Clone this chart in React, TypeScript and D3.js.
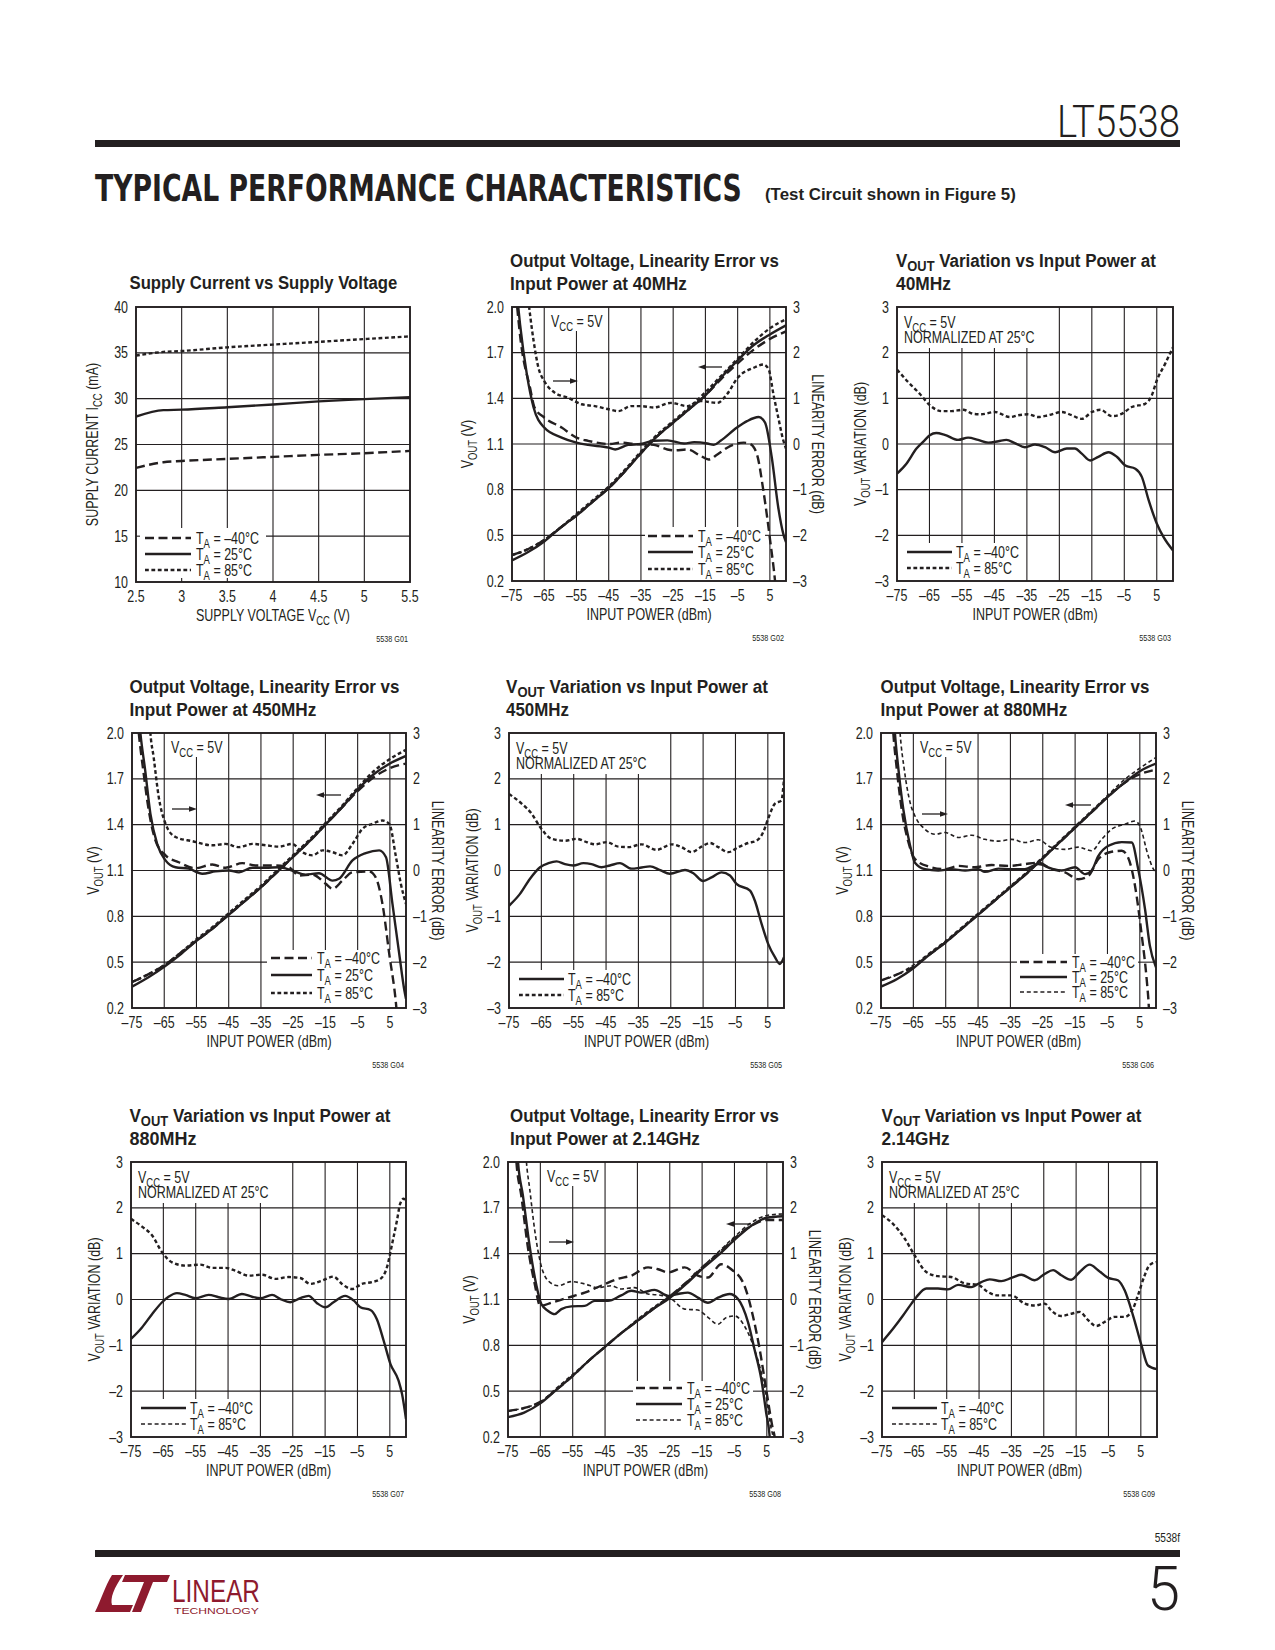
import React from 'react';
import * as d3 from 'd3';

type Pt = [number, number];
const INK = '#231f20';
const RED = '#8e1a2e';
const SANS = '"Liberation Sans", Arial, Helvetica, sans-serif';
const SX = 0.78;

// ---------- tick labels ----------
const DBM_TICKS = [-75, -65, -55, -45, -35, -25, -15, -5, 5];
const DBM_LABELS = ['–75', '–65', '–55', '–45', '–35', '–25', '–15', '–5', '5'];
const VOUT_TICKS = [0.2, 0.5, 0.8, 1.1, 1.4, 1.7, 2.0];
const VOUT_LABELS = ['0.2', '0.5', '0.8', '1.1', '1.4', '1.7', '2.0'];
const DB_TICKS = [-3, -2, -1, 0, 1, 2, 3];
const DB_LABELS = ['–3', '–2', '–1', '0', '1', '2', '3'];
const VCC_TICKS = [2.5, 3, 3.5, 4, 4.5, 5, 5.5];
const VCC_LABELS = ['2.5', '3', '3.5', '4', '4.5', '5', '5.5'];
const ICC_TICKS = [10, 15, 20, 25, 30, 35, 40];
const ICC_LABELS = ['10', '15', '20', '25', '30', '35', '40'];

// ---------- G01 supply current ----------
const VCC = [2.5, 2.8, 3, 3.5, 4, 4.5, 5, 5.5];
const ICC_M40 = [22.45, 23.07, 23.2, 23.43, 23.65, 23.87, 24.05, 24.3];
const ICC_25 = [28.05, 28.75, 28.8, 29.07, 29.37, 29.7, 29.95, 30.17];
const ICC_85 = [34.7, 35.1, 35.2, 35.6, 35.9, 36.2, 36.5, 36.8];

// ---------- VOUT vs input power (common x) ----------
const XP = [-75, -70, -65, -60, -55, -50, -45, -40, -35, -30, -25, -20, -15, -10, -5, 0, 5, 10];
const VOUT40_M40 = [0.37, 0.41, 0.47, 0.55, 0.63, 0.72, 0.81, 0.92, 1.04, 1.15, 1.24, 1.33, 1.42, 1.53, 1.63, 1.72, 1.79, 1.84];
const VOUT40_25 = [0.335, 0.39, 0.46, 0.55, 0.63, 0.72, 0.81, 0.92, 1.04, 1.15, 1.24, 1.33, 1.42, 1.54, 1.65, 1.75, 1.82, 1.88];
const VOUT40_85 = [0.37, 0.41, 0.47, 0.55, 0.64, 0.73, 0.82, 0.93, 1.05, 1.16, 1.25, 1.34, 1.44, 1.55, 1.66, 1.77, 1.86, 1.92];
const VOUT450_M40 = [0.37, 0.42, 0.48, 0.56, 0.64, 0.72, 0.81, 0.9, 0.99, 1.09, 1.19, 1.29, 1.4, 1.51, 1.62, 1.71, 1.77, 1.8];
const VOUT450_25 = [0.34, 0.4, 0.47, 0.55, 0.64, 0.72, 0.81, 0.9, 0.99, 1.09, 1.19, 1.29, 1.4, 1.51, 1.63, 1.73, 1.8, 1.85];
const VOUT450_85 = [0.37, 0.42, 0.48, 0.56, 0.65, 0.73, 0.82, 0.91, 1.0, 1.1, 1.2, 1.3, 1.41, 1.52, 1.64, 1.75, 1.83, 1.89];
const VOUT880_M40 = [0.38, 0.42, 0.47, 0.55, 0.63, 0.72, 0.81, 0.9, 0.99, 1.08, 1.18, 1.28, 1.38, 1.48, 1.58, 1.67, 1.73, 1.76];
const VOUT880_25 = [0.34, 0.39, 0.46, 0.55, 0.63, 0.72, 0.81, 0.9, 0.99, 1.08, 1.18, 1.28, 1.38, 1.48, 1.58, 1.67, 1.75, 1.8];
const VOUT880_85 = [0.38, 0.42, 0.48, 0.56, 0.64, 0.73, 0.82, 0.91, 1.0, 1.09, 1.19, 1.29, 1.39, 1.49, 1.59, 1.69, 1.77, 1.84];
const VOUT2G_M40 = [0.37, 0.39, 0.43, 0.51, 0.6, 0.7, 0.79, 0.88, 0.96, 1.04, 1.12, 1.21, 1.31, 1.4, 1.5, 1.58, 1.62, 1.62];
const VOUT2G_25 = [0.33, 0.36, 0.42, 0.51, 0.6, 0.7, 0.79, 0.88, 0.96, 1.04, 1.11, 1.2, 1.3, 1.39, 1.49, 1.58, 1.635, 1.645];
const VOUT2G_85 = [0.37, 0.39, 0.43, 0.52, 0.61, 0.7, 0.79, 0.88, 0.97, 1.05, 1.12, 1.21, 1.31, 1.41, 1.51, 1.6, 1.65, 1.66];

// ---------- linearity error (dB) [input dBm, error] ----------
const LE40_M40: Pt[] = [[-73.8, 3.3], [-72.3, 2.26], [-69.4, 1.23], [-68, 0.8], [-65, 0.58], [-59.6, 0.36], [-55, 0.14], [-51.4, 0.07], [-45, 0], [-41, 0.03], [-37, 0], [-31, -0.02], [-26.8, -0.12], [-24.7, -0.14], [-20.6, -0.12], [-16.5, -0.26], [-14, -0.34], [-11.3, -0.23], [-7.2, -0.04], [-3.1, 0.03], [-1.1, 0], [1, -0.23], [3, -1.03], [5.1, -2.12], [6.6, -3], [7, -3.3]];
const LE40_25: Pt[] = [[-73.5, 3.3], [-72.5, 2.62], [-70.4, 1.53], [-68.3, 0.8], [-65, 0.36], [-59.6, 0.14], [-55, 0.03], [-51.4, -0.02], [-45, -0.08], [-43, -0.12], [-39, -0.02], [-35, 0], [-31, 0.07], [-26.8, 0.08], [-21.6, 0.01], [-18.5, 0.04], [-14.4, 0.01], [-12.4, -0.02], [-10.3, 0.07], [-5.2, 0.36], [-2.1, 0.5], [1.5, 0.59], [3.5, 0.47], [5.6, -0.3], [7.6, -1.39], [9.2, -1.98], [10, -2.15]];
const LE40_85: Pt[] = [[-70.2, 3.3], [-68.3, 2.26], [-66.8, 1.67], [-65, 1.38], [-61.7, 1.12], [-57.5, 1.01], [-53.4, 0.87], [-49.3, 0.83], [-45, 0.76], [-42, 0.72], [-38, 0.83], [-35, 0.83], [-31, 0.8], [-25.7, 0.9], [-20.6, 0.83], [-16.5, 0.94], [-11.3, 0.9], [-8.3, 1.09], [-5, 1.45], [0, 1.67], [3, 1.74], [4.6, 1.64], [6.1, 1.09], [7.6, 0.58], [9.2, 0.07], [10, -0.1]];

const LE450_M40: Pt[] = [[-73.3, 3.3], [-72.9, 3], [-71.5, 2.18], [-69.8, 1.31], [-67.7, 0.65], [-64.6, 0.33], [-60.5, 0.18], [-55.3, 0.05], [-50.1, 0.13], [-46, 0.06], [-40.8, 0.16], [-36.7, 0.11], [-31.5, 0.11], [-26.3, 0.07], [-23.2, -0.11], [-19, -0.09], [-14.9, -0.29], [-12.8, -0.4], [-9.7, -0.22], [-6.6, -0.04], [-1.4, -0.02], [0.6, -0.15], [2.7, -0.73], [4.8, -1.82], [6.9, -2.91], [7.4, -3.3]];
const LE450_25: Pt[] = [[-72.8, 3.3], [-72.4, 3], [-70.9, 2.18], [-69.3, 1.24], [-67.2, 0.58], [-64.6, 0.22], [-61.5, 0.07], [-57.4, 0.04], [-53.2, -0.07], [-49.1, -0.02], [-44.9, 0], [-41.8, -0.04], [-37.7, 0.06], [-33.5, 0.06], [-29.4, 0.07], [-25.3, 0], [-21.1, -0.09], [-17, -0.06], [-12.8, -0.22], [-10.8, -0.18], [-6.6, 0.22], [-2.5, 0.38], [1.7, 0.44], [3.8, 0.29], [5.8, -0.73], [7.9, -1.82], [9.5, -2.62], [10, -2.8]];
const LE450_85: Pt[] = [[-69.6, 3.3], [-69.3, 3], [-68.3, 2.48], [-66.7, 1.6], [-64.6, 1.02], [-61.5, 0.73], [-56.3, 0.64], [-50.1, 0.55], [-46, 0.58], [-41.8, 0.51], [-37.7, 0.58], [-33.5, 0.55], [-29.4, 0.52], [-25.3, 0.58], [-22.2, 0.4], [-19, 0.33], [-15.9, 0.44], [-12.8, 0.4], [-9.7, 0.33], [-6.6, 0.58], [-3.5, 0.91], [-0.4, 1.02], [2.7, 1.09], [4.8, 1.02], [6.9, 0.29], [8.4, -0.29], [10, -0.73]];

const LE880_M40: Pt[] = [[-71.5, 3.3], [-71.2, 3], [-70.1, 2.2], [-68.6, 1.33], [-66.5, 0.61], [-64.5, 0.25], [-60.4, 0.09], [-55.2, 0.03], [-51.1, 0.1], [-46, 0.07], [-40.8, 0.12], [-35.6, 0.1], [-30.5, 0.14], [-26.4, 0.17], [-22.2, 0.03], [-18.1, -0.04], [-14, -0.19], [-10.9, -0.12], [-7.8, 0.25], [-3.7, 0.41], [-0.6, 0.43], [1.4, 0.28], [3.5, -0.33], [5.6, -1.42], [7.1, -2.36], [7.8, -3], [8, -3.3]];
const LE880_25: Pt[] = [[-71, 3.3], [-70.7, 3], [-69.6, 2.2], [-68.1, 1.33], [-66, 0.54], [-64.5, 0.17], [-61.4, 0.03], [-57.3, 0], [-53.2, 0.03], [-49, 0], [-44.9, 0.03], [-42.9, -0.03], [-38.7, 0.04], [-34.6, 0.03], [-30.5, 0.03], [-26.4, 0.14], [-22.2, 0.04], [-19.2, 0], [-15, 0.07], [-11.9, -0.08], [-9.9, 0], [-7.8, 0.32], [-4.7, 0.54], [-0.6, 0.62], [2.5, 0.61], [4.5, 0.03], [6.6, -0.84], [8.1, -1.64], [10, -2.11]];
const LE880_85: Pt[] = [[-69.4, 3.3], [-69.1, 3], [-67.8, 2.2], [-66, 1.48], [-64.5, 1.19], [-61.4, 0.9], [-58.3, 0.79], [-55.2, 0.83], [-51.1, 0.72], [-47, 0.77], [-42.9, 0.68], [-38.7, 0.64], [-34.6, 0.68], [-30.5, 0.61], [-26.4, 0.67], [-22.2, 0.5], [-18.1, 0.46], [-14, 0.51], [-9.9, 0.43], [-6.8, 0.68], [-3.7, 0.9], [0.4, 1.01], [3.5, 1.08], [5, 0.97], [7.6, 0.32], [9.2, 0.03], [10, -0.04]];

const LE2G_M40: Pt[] = [[-72.7, 3.3], [-72.4, 3], [-70.9, 2.27], [-68.9, 1.16], [-66.8, 0.36], [-65, -0.14], [-61.6, -0.07], [-56.5, 0.04], [-51.3, 0.15], [-46.2, 0.3], [-41, 0.45], [-36.9, 0.52], [-31.7, 0.7], [-28.6, 0.66], [-25.5, 0.59], [-20.4, 0.7], [-16.3, 0.52], [-13.2, 0.48], [-9.1, 0.77], [-6, 0.66], [-1.9, 0.3], [0.7, -0.36], [2.8, -1.09], [4.8, -1.96], [6.9, -2.84], [7.4, -3], [7.6, -3.3]];
const LE2G_25: Pt[] = [[-72.2, 3.3], [-71.9, 3], [-70.4, 2.27], [-68.3, 1.16], [-66.2, 0.3], [-64.7, -0.1], [-62.6, -0.25], [-60.6, -0.32], [-58.5, -0.21], [-55.4, -0.15], [-51.3, -0.14], [-48.2, -0.03], [-44.1, -0.03], [-40, 0.09], [-36.9, 0.19], [-33.8, 0.15], [-29.7, 0.21], [-25.5, 0.08], [-22.5, 0.12], [-19.4, 0.15], [-16.3, 0.04], [-13.2, -0.07], [-10.1, 0.04], [-6.5, 0.12], [-3.9, 0.01], [-0.8, -0.5], [1.2, -1.09], [3.3, -1.74], [4.8, -2.47], [5.9, -3], [6.2, -3.3]];
const LE2G_85: Pt[] = [[-69.6, 3.3], [-69.3, 3], [-68.3, 2.42], [-66.8, 1.54], [-65, 0.81], [-62.6, 0.41], [-59.5, 0.3], [-55.4, 0.39], [-51.3, 0.34], [-47.2, 0.26], [-43.1, 0.3], [-40, 0.23], [-35.9, 0.26], [-31.7, 0.12], [-27.6, 0.09], [-24.5, 0.01], [-20.4, -0.21], [-16.3, -0.23], [-13.2, -0.39], [-10.1, -0.54], [-7.5, -0.39], [-4.9, -0.36], [-1.9, -0.58], [1.2, -1.09], [3.3, -1.6], [4.8, -2.11], [6.4, -2.84], [6.9, -3], [7.1, -3.3]];

// ---------- VOUT variation (dB) [input dBm, variation] ----------
const VAR40_M40: Pt[] = [[-75, -0.65], [-72.1, -0.43], [-69, -0.1], [-66.5, 0.08], [-64.9, 0.19], [-62.9, 0.24], [-60.3, 0.2], [-56.2, 0.09], [-53.1, 0.14], [-50, 0.09], [-46.9, 0.03], [-43.8, 0.06], [-41.3, 0.09], [-38.7, 0.02], [-35.6, -0.07], [-32.5, -0.01], [-29.4, -0.07], [-26.3, -0.18], [-22.7, -0.1], [-20.2, -0.1], [-18.1, -0.21], [-15.5, -0.36], [-13, -0.28], [-9.9, -0.18], [-7.3, -0.28], [-4.7, -0.47], [-1.6, -0.54], [0.4, -0.72], [2.5, -1.23], [5, -1.74], [7.1, -2.04], [10, -2.33]];
const VAR40_85: Pt[] = [[-75, 1.63], [-71.6, 1.36], [-68, 1.1], [-64.9, 0.85], [-61.3, 0.72], [-58.2, 0.72], [-54.6, 0.75], [-51.5, 0.66], [-49, 0.65], [-44.9, 0.7], [-40.2, 0.59], [-37.7, 0.63], [-34.6, 0.65], [-31.5, 0.59], [-28.4, 0.63], [-24.3, 0.7], [-21.2, 0.63], [-18.1, 0.55], [-15, 0.7], [-12.4, 0.75], [-8.8, 0.61], [-5.8, 0.66], [-2.7, 0.81], [1.4, 0.88], [3.5, 1.07], [5, 1.39], [7.6, 1.76], [10, 2.12]];
const VAR450_M40: Pt[] = [[-75, -0.77], [-71.6, -0.51], [-68.5, -0.18], [-65.4, 0.07], [-62.8, 0.16], [-60.3, 0.2], [-57.7, 0.14], [-55.1, 0.11], [-52, 0.16], [-49.5, 0.14], [-46.4, 0.07], [-43.8, 0.11], [-40.7, 0.16], [-37.1, 0.04], [-34.5, 0.06], [-31.4, 0.09], [-28.3, 0.01], [-25.3, -0.07], [-20.6, 0.01], [-18, -0.06], [-15, -0.23], [-12.4, -0.15], [-9.3, -0.04], [-6.7, -0.11], [-4.7, -0.29], [-0.5, -0.44], [1, -0.66], [3.1, -1.17], [5.1, -1.6], [7.2, -1.89], [8.7, -2.04], [10, -1.89]];
const VAR450_85: Pt[] = [[-75, 1.67], [-71.1, 1.46], [-68, 1.24], [-65.4, 0.95], [-61.8, 0.69], [-57.7, 0.65], [-54.1, 0.69], [-51, 0.62], [-48.4, 0.57], [-44.8, 0.62], [-41.2, 0.52], [-38.1, 0.51], [-34, 0.57], [-29.4, 0.45], [-24.7, 0.57], [-21.7, 0.51], [-18.6, 0.4], [-15.5, 0.52], [-12.9, 0.6], [-10.3, 0.51], [-7.2, 0.4], [-4.1, 0.51], [-1.1, 0.6], [1.5, 0.65], [3.6, 0.84], [5.1, 1.13], [7.2, 1.46], [9.2, 1.53], [10, 2.0]];
const VAR880_M40: Pt[] = [[-75, -0.86], [-71.6, -0.61], [-68.5, -0.32], [-65.4, -0.06], [-63.4, 0.06], [-60.8, 0.14], [-58.2, 0.1], [-55.1, 0.03], [-51, 0.1], [-47.9, 0.05], [-44.8, 0.01], [-40.7, 0.12], [-37.6, 0.06], [-35, 0.03], [-31.4, 0.1], [-28.8, 0.01], [-25.8, -0.06], [-22.7, 0.03], [-20.1, 0.08], [-17.5, -0.08], [-14.9, -0.17], [-12.4, -0.06], [-8.8, 0.08], [-6.2, -0.02], [-4.1, -0.17], [-1, -0.23], [1, -0.43], [3.1, -0.9], [5.2, -1.41], [7.7, -1.77], [8.8, -2.07], [10, -2.61]];
const VAR880_85: Pt[] = [[-75, 1.76], [-71.6, 1.59], [-68.5, 1.4], [-65.4, 1.03], [-62.3, 0.81], [-58.2, 0.74], [-53.6, 0.76], [-50, 0.69], [-45.8, 0.69], [-42.8, 0.63], [-38.6, 0.52], [-34.5, 0.54], [-30.4, 0.45], [-26.3, 0.49], [-22.7, 0.47], [-19.6, 0.34], [-16, 0.41], [-12.4, 0.5], [-9.8, 0.34], [-6.7, 0.23], [-3.6, 0.34], [-0.5, 0.38], [2.1, 0.45], [4.1, 0.7], [5.7, 1.21], [7.2, 1.72], [8.2, 2.09], [9.3, 2.2], [10, 2.12]];
const VAR2G_M40: Pt[] = [[-75, -0.93], [-71.6, -0.64], [-68.5, -0.35], [-65.9, -0.09], [-64.4, 0.05], [-61.3, 0.24], [-57.7, 0.24], [-54.6, 0.22], [-51.5, 0.32], [-47.4, 0.27], [-44.3, 0.38], [-41.7, 0.44], [-38.1, 0.4], [-35, 0.47], [-31.9, 0.54], [-27.8, 0.42], [-24.7, 0.56], [-22.1, 0.64], [-19.6, 0.53], [-16.5, 0.43], [-13.9, 0.6], [-10.8, 0.76], [-8.2, 0.64], [-5.1, 0.47], [-2.1, 0.42], [0, 0.2], [2.6, -0.35], [5.2, -1.0], [7.2, -1.44], [10, -1.52]];
const VAR2G_85: Pt[] = [[-75, 1.84], [-71.6, 1.65], [-68, 1.33], [-64.9, 0.96], [-61.3, 0.6], [-57.7, 0.51], [-53.6, 0.49], [-49.4, 0.35], [-45.3, 0.32], [-42.2, 0.16], [-39.1, 0.09], [-35, 0.09], [-30.9, -0.09], [-27.8, -0.13], [-24.7, -0.09], [-22.7, -0.24], [-19.6, -0.36], [-16.5, -0.31], [-13.9, -0.27], [-11.3, -0.45], [-8.8, -0.58], [-6.2, -0.49], [-3.1, -0.38], [0, -0.38], [2.6, -0.2], [4.1, 0.09], [6.2, 0.53], [7.7, 0.75], [10, 0.82]];

const pairs = (xs: number[], ys: number[]): Pt[] => xs.map((v, i) => [v, ys[i]] as Pt);

// ---------- helpers ----------
const STYLES: Record<string, { w: number; dash?: string }> = {
  m40: { w: 2.4, dash: '9,4.5' },
  t25: { w: 2.4 },
  t85: { w: 2.4, dash: '3.8,2.6' },
  t85t: { w: 1.6, dash: '4,2.8' },
};

let _ctx: any = null;
function measure(text: string, size: number, weight: any, family: string) {
  if (!_ctx) _ctx = document.createElement('canvas').getContext('2d');
  _ctx.font = `${weight} ${size}px ${family}`;
  return _ctx.measureText(text).width;
}

type Seg = { t: string; sub?: boolean };
function FitText({ x, y, width, size, weight = 400, family = SANS, anchor = 'start', fill = INK, segs }: any) {
  const natural = (segs as Seg[]).reduce((s, g) => s + measure(g.t, g.sub ? size * 0.76 : size, weight, family), 0) || 1;
  const sx = width / natural;
  const d = size * 0.24;
  return (
    <text transform={`translate(${x},${y}) scale(${sx},1)`} fontSize={size} fontWeight={weight} fontFamily={family}
      textAnchor={anchor} fill={fill}>
      {(segs as Seg[]).map((g, i) => {
        const prevSub = i > 0 && segs[i - 1].sub;
        const dy = g.sub ? d : prevSub ? -d : 0;
        return <tspan key={i} dy={dy || undefined} fontSize={g.sub ? size * 0.76 : undefined}>{g.t}</tspan>;
      })}
    </text>
  );
}

function Txt({ x, y, size = 16, anchor = 'start', weight = 400, rotate = 0, sx = SX, fill = INK, family = SANS, children }: any) {
  return (
    <text transform={`translate(${x},${y}) rotate(${rotate}) scale(${sx},1)`} fontSize={size} textAnchor={anchor}
      fontWeight={weight} fontFamily={family} fill={fill}>{children}</text>
  );
}

function withSub(main: string, sub: string, rest: string, size: number) {
  const d = size * 0.24;
  return (
    <>
      <tspan>{main}</tspan>
      <tspan dy={d} fontSize={size * 0.76}>{sub}</tspan>
      <tspan dy={-d}>{rest}</tspan>
    </>
  );
}

// subtract cut intervals from [a0, a1]
function segmentsOf(a0: number, a1: number, cuts: [number, number][]): [number, number][] {
  let segs: [number, number][] = [[a0, a1]];
  cuts.forEach(([c0, c1]) => {
    const next: [number, number][] = [];
    segs.forEach(([s0, s1]) => {
      if (c1 <= s0 || c0 >= s1) { next.push([s0, s1]); return; }
      if (c0 > s0) next.push([s0, c0]);
      if (c1 < s1) next.push([c1, s1]);
    });
    segs = next;
  });
  return segs;
}

const VOUT_SEGS = (rest: string): Seg[] => [{ t: 'V' }, { t: 'OUT', sub: true }, { t: rest }];

function Chart({ c }: { c: any }) {
  const L = c.left, Tp = c.top, R = c.left + c.w, B = c.top + c.h;
  const x = d3.scaleLinear().domain(c.xDomain).range([L, R]);
  const y = d3.scaleLinear().domain(c.yDomain).range([B, Tp]);
  const y2 = d3.scaleLinear().domain([-3, 3]).range([B, Tp]);
  const gen = (sc: any) => d3.line<Pt>().x(d => x(d[0])).y(d => sc(d[1])).curve(d3.curveMonotoneX);
  const clipId = `clip-${c.id}`;
  const lg = c.legend;
  const innerX = c.xTicks.filter((v: number) => v > c.xDomain[0] + 1e-9 && v < c.xDomain[1] - 1e-9);
  const innerY = c.yTicks.filter((v: number) => v > c.yDomain[0] + 1e-9 && v < c.yDomain[1] - 1e-9);
  const midY = (Tp + B) / 2;
  const boxes: { x0: number; x1: number; y0: number; y1: number }[] = [
    { x0: L + lg.bg[0], x1: L + lg.bg[1], y0: B - lg.bg[2], y1: B - lg.bg[3] },
  ];
  if (c.vcc) boxes.push({ x0: L + c.vcc.bg[0], x1: L + c.vcc.bg[1], y0: Tp, y1: Tp + c.vcc.bg[2] });
  return (
    <g>
      <defs>
        <clipPath id={clipId}><rect x={L} y={Tp} width={c.w} height={c.h} /></clipPath>
      </defs>
      {c.title.map((t: any, i: number) => (
        <FitText key={i} x={c.titleX} y={Tp + (c.title.length === 1 ? -18 : i === 0 ? -40 : -17)} size={18.5}
          weight={700} width={t.len} segs={t.segs} />
      ))}
      {/* grid, broken where legend / label boxes sit */}
      {innerX.map((v: number) => {
        const X = x(v);
        const cuts = boxes.filter(b => X > b.x0 && X < b.x1).map(b => [b.y0, b.y1] as [number, number]);
        return segmentsOf(Tp, B, cuts).map(([a, b], k) => (
          <line key={'gx' + v + '-' + k} x1={X} x2={X} y1={a} y2={b} stroke={INK} strokeWidth={1.1} />
        ));
      })}
      {innerY.map((v: number) => {
        const Y = y(v);
        const cuts = boxes.filter(b => Y > b.y0 && Y < b.y1).map(b => [b.x0, b.x1] as [number, number]);
        return segmentsOf(L, R, cuts).map(([a, b], k) => (
          <line key={'gy' + v + '-' + k} x1={a} x2={b} y1={Y} y2={Y} stroke={INK} strokeWidth={1.1} />
        ));
      })}
      {/* series */}
      <g clipPath={`url(#${clipId})`}>
        {c.series.map((s: any, i: number) => {
          const st = STYLES[s.st];
          return <path key={i} d={gen(s.right ? y2 : y)(s.data) || ''} fill="none" stroke={INK} strokeWidth={st.w}
            strokeDasharray={st.dash} strokeLinejoin="round" />;
        })}
      </g>
      {/* legend */}
      {lg.items.map((it: any, i: number) => {
        const st = STYLES[it.st];
        const ry = B - lg.rows[i];
        return (
          <g key={'lg' + i}>
            <line x1={L + lg.line[0]} x2={L + lg.line[1]} y1={ry} y2={ry} stroke={INK} strokeWidth={st.w} strokeDasharray={st.dash} />
            <Txt x={L + lg.text} y={ry + 6} size={16}>{withSub('T', 'A', ' = ' + it.label, 16)}</Txt>
          </g>
        );
      })}
      {/* VCC labels */}
      {c.vcc && (
        <g>
          <Txt x={L + c.vcc.x} y={Tp + c.vcc.y} size={16}>{withSub('V', 'CC', ' = 5V', 16)}</Txt>
          {c.vcc.normalized && <Txt x={L + c.vcc.x} y={Tp + c.vcc.y + 15} size={16}>NORMALIZED AT 25°C</Txt>}
        </g>
      )}
      {/* arrows */}
      {(c.arrows || []).map((a: any, i: number) => {
        const tipX = L + (a.dir > 0 ? a.x2 : a.x1);
        const tailX = L + (a.dir > 0 ? a.x1 : a.x2);
        const ay = Tp + a.y;
        const d = a.dir;
        return (
          <g key={'ar' + i}>
            <line x1={tailX} x2={tipX - d * 5} y1={ay} y2={ay} stroke={INK} strokeWidth={1.3} />
            <path d={`M${tipX},${ay} L${tipX - d * 8},${ay - 2.8} L${tipX - d * 8},${ay + 2.8} Z`} fill={INK} />
          </g>
        );
      })}
      {/* frame */}
      <rect x={L} y={Tp} width={c.w} height={c.h} fill="none" stroke={INK} strokeWidth={1.9} />
      {/* tick labels */}
      {c.xTicks.map((v: number, i: number) => (
        <Txt key={'xt' + i} x={x(v)} y={B + 20} anchor="middle">{c.xLabels[i]}</Txt>
      ))}
      {c.yTicks.map((v: number, i: number) => (
        <Txt key={'yt' + i} x={L - 8} y={y(v) + 5.5} anchor="end">{c.yLabels[i]}</Txt>
      ))}
      {c.right && DB_TICKS.map((v, i) => (
        <Txt key={'y2t' + i} x={R + 7} y={y2(v) + 5.5}>{DB_LABELS[i]}</Txt>
      ))}
      {/* axis titles */}
      <Txt x={(L + R) / 2} y={B + 39} anchor="middle">{c.xTitle}</Txt>
      <Txt x={L - c.yTitleOff + 6} y={midY} anchor="middle" rotate={-90}>{c.yTitle}</Txt>
      {c.right && <Txt x={R + 32 - 6} y={midY} anchor="middle" rotate={90}>LINEARITY ERROR (dB)</Txt>}
      <Txt x={R - 2} y={B + 60} anchor="end" size={8.5} sx={0.85}>{c.code}</Txt>
    </g>
  );
}

// ---------- chart configs ----------
const LE_BASE = {
  xDomain: [-75, 10], xTicks: DBM_TICKS, xLabels: DBM_LABELS,
  yDomain: [0.2, 2.0], yTicks: VOUT_TICKS, yLabels: VOUT_LABELS, right: true,
  xTitle: 'INPUT POWER (dBm)', yTitle: withSub('V', 'OUT', ' (V)', 16), yTitleOff: 39,
  vcc: { x: 39, y: 20, bg: [34, 92, 24] },
};
const VAR_BASE = {
  xDomain: [-75, 10], xTicks: DBM_TICKS, xLabels: DBM_LABELS,
  yDomain: [-3, 3], yTicks: DB_TICKS, yLabels: DB_LABELS, right: false,
  xTitle: 'INPUT POWER (dBm)', yTitle: withSub('V', 'OUT', ' VARIATION (dB)', 16), yTitleOff: 37,
  vcc: { x: 7, y: 21, bg: [3, 143, 41], normalized: true },
};
const VAR_LEGEND = (s85: string) => ({
  bg: [3, 125, 38, 0], line: [10, 55], text: 59, rows: [29, 13],
  items: [{ st: 't25', label: '–40°C' }, { st: s85, label: '85°C' }],
});
const LE_ITEMS = (s85: string) => [{ st: 'm40', label: '–40°C' }, { st: 't25', label: '25°C' }, { st: s85, label: '85°C' }];
const leSeries = (vm: number[], v25: number[], v85: number[], lm: Pt[], l25: Pt[], l85: Pt[], s85: string) => [
  { data: pairs(XP, vm), st: 'm40' }, { data: pairs(XP, v25), st: 't25' }, { data: pairs(XP, v85), st: s85 },
  { data: lm, st: 'm40', right: true }, { data: l25, st: 't25', right: true }, { data: l85, st: s85, right: true },
];
const LE_TITLE1 = { segs: [{ t: 'Output Voltage, Linearity Error vs' }] };

const CHARTS: any[] = [
  {
    id: 'g01', left: 136, top: 307, w: 274, h: 275, titleX: 129.5,
    title: [{ segs: [{ t: 'Supply Current vs Supply Voltage' }], len: 268 }],
    xDomain: [2.5, 5.5], xTicks: VCC_TICKS, xLabels: VCC_LABELS,
    yDomain: [10, 40], yTicks: ICC_TICKS, yLabels: ICC_LABELS, right: false,
    xTitle: withSub('SUPPLY VOLTAGE V', 'CC', ' (V)', 16), yTitle: withSub('SUPPLY CURRENT I', 'CC', ' (mA)', 16), yTitleOff: 44,
    code: '5538 G01',
    series: [{ data: pairs(VCC, ICC_M40), st: 'm40' }, { data: pairs(VCC, ICC_25), st: 't25' }, { data: pairs(VCC, ICC_85), st: 't85' }],
    legend: { bg: [4, 130, 54, 4], line: [9, 55], text: 60, rows: [44, 28, 12], items: LE_ITEMS('t85') },
  },
  {
    ...LE_BASE, id: 'g02', left: 512, top: 307, w: 274, h: 274, titleX: 510, yTitleOff: 45,
    title: [{ ...LE_TITLE1, len: 269 }, { segs: [{ t: 'Input Power at 40MHz' }], len: 177 }],
    code: '5538 G02',
    series: leSeries(VOUT40_M40, VOUT40_25, VOUT40_85, LE40_M40, LE40_25, LE40_85, 't85'),
    legend: { bg: [133, 253, 54, 0], line: [136, 181], text: 186, rows: [45, 29, 12], items: LE_ITEMS('t85') },
    arrows: [{ x1: 41, x2: 66, y: 74, dir: 1 }, { x1: 186, x2: 210, y: 60, dir: -1 }],
  },
  {
    ...VAR_BASE, id: 'g03', left: 897, top: 307, w: 276, h: 274, titleX: 896,
    title: [{ segs: VOUT_SEGS(' Variation vs Input Power at'), len: 260 }, { segs: [{ t: '40MHz' }], len: 55 }],
    code: '5538 G03',
    series: [{ data: VAR40_M40, st: 't25' }, { data: VAR40_85, st: 't85' }],
    legend: VAR_LEGEND('t85'),
  },
  {
    ...LE_BASE, id: 'g04', left: 132, top: 733, w: 274, h: 275, titleX: 129.5,
    title: [{ ...LE_TITLE1, len: 270 }, { segs: [{ t: 'Input Power at 450MHz' }], len: 187 }],
    code: '5538 G04',
    series: leSeries(VOUT450_M40, VOUT450_25, VOUT450_85, LE450_M40, LE450_25, LE450_85, 't85'),
    legend: { bg: [135, 259, 58, 0], line: [139, 180], text: 185, rows: [50, 33, 15], items: LE_ITEMS('t85') },
    arrows: [{ x1: 40, x2: 65, y: 76, dir: 1 }, { x1: 184, x2: 209, y: 62, dir: -1 }],
  },
  {
    ...VAR_BASE, id: 'g05', left: 509, top: 733, w: 275, h: 275, titleX: 506,
    title: [{ segs: VOUT_SEGS(' Variation vs Input Power at'), len: 262 }, { segs: [{ t: '450MHz' }], len: 63 }],
    code: '5538 G05',
    series: [{ data: VAR450_M40, st: 't25' }, { data: VAR450_85, st: 't85' }],
    legend: VAR_LEGEND('t85'),
  },
  {
    ...LE_BASE, id: 'g06', left: 881, top: 733, w: 275, h: 275, titleX: 880.5,
    title: [{ ...LE_TITLE1, len: 269 }, { segs: [{ t: 'Input Power at 880MHz' }], len: 187 }],
    code: '5538 G06',
    series: leSeries(VOUT880_M40, VOUT880_25, VOUT880_85, LE880_M40, LE880_25, LE880_85, 't85t'),
    legend: { bg: [136, 257, 54, 0], line: [139, 186], text: 191, rows: [46, 31, 16], items: LE_ITEMS('t85t') },
    arrows: [{ x1: 41, x2: 67, y: 81, dir: 1 }, { x1: 184, x2: 210, y: 72, dir: -1 }],
  },
  {
    ...VAR_BASE, id: 'g07', left: 131, top: 1162, w: 275, h: 275, titleX: 129.5,
    title: [{ segs: VOUT_SEGS(' Variation vs Input Power at'), len: 261 }, { segs: [{ t: '880MHz' }], len: 67 }],
    code: '5538 G07',
    series: [{ data: VAR880_M40, st: 't25' }, { data: VAR880_85, st: 't85' }],
    legend: VAR_LEGEND('t85t'),
  },
  {
    ...LE_BASE, id: 'g08', left: 508, top: 1162, w: 275, h: 275, titleX: 510,
    title: [{ ...LE_TITLE1, len: 269 }, { segs: [{ t: 'Input Power at 2.14GHz' }], len: 190 }],
    code: '5538 G08',
    series: leSeries(VOUT2G_M40, VOUT2G_25, VOUT2G_85, LE2G_M40, LE2G_25, LE2G_85, 't85t'),
    legend: { bg: [125, 245, 56, 0], line: [128, 174], text: 179, rows: [49, 33, 17], items: LE_ITEMS('t85t') },
    arrows: [{ x1: 41, x2: 66, y: 80, dir: 1 }, { x1: 218, x2: 243, y: 62, dir: -1 }],
  },
  {
    ...VAR_BASE, id: 'g09', left: 882, top: 1162, w: 275, h: 275, titleX: 881.6,
    title: [{ segs: VOUT_SEGS(' Variation vs Input Power at'), len: 260 }, { segs: [{ t: '2.14GHz' }], len: 68 }],
    code: '5538 G09',
    series: [{ data: VAR2G_M40, st: 't25' }, { data: VAR2G_85, st: 't85' }],
    legend: VAR_LEGEND('t85t'),
  },
];

const ROBOTO = 'Roboto, sans-serif';
const DEJAVU = '"DejaVu Sans", sans-serif';

export default function App() {
  return (
    <svg width={1275} height={1650} viewBox="0 0 1275 1650" style={{ position: 'absolute', left: 0, top: 0, background: '#fff' }}>
      <rect x={0} y={0} width={1275} height={1650} fill="#fff" />
      {/* header */}
      <FitText x={1180} y={137} anchor="end" size={44} family={ROBOTO} weight={300} width={123} segs={[{ t: 'LT5538' }]} />
      <rect x={95} y={140} width={1085} height={7} fill={INK} />
      <FitText x={95} y={201} size={37} family={DEJAVU} weight={700} width={647} segs={[{ t: 'TYPICAL PERFORMANCE CHARACTERISTICS' }]} />
      <FitText x={765} y={200} size={17} weight={700} width={251} segs={[{ t: '(Test Circuit shown in Figure 5)' }]} />
      {CHARTS.map(c => <Chart key={c.id} c={c} />)}
      {/* footer */}
      <Txt x={1180} y={1542} anchor="end" size={13}>5538f</Txt>
      <rect x={95} y={1550} width={1085} height={7} fill={INK} />
      <FitText x={1180} y={1610} anchor="end" size={62} family={ROBOTO} weight={300} width={33} segs={[{ t: '5' }]} />
      <g fill={RED}>
        <path d="M112,1575 L123,1575 C114,1588 110,1598 112,1605 L133,1605 L130,1612 L95,1612 C101,1600 105,1586 112,1575 Z" />
        <path d="M125,1575 L170,1575 L167,1582 L153,1582 L141,1612 L132,1612 L144,1582 L122,1582 Z" />
      </g>
      <FitText x={172} y={1602} size={32} fill={RED} width={88} segs={[{ t: 'LINEAR' }]} />
      <FitText x={174} y={1614} size={9} fill={RED} width={85} segs={[{ t: 'TECHNOLOGY' }]} />
    </svg>
  );
}
